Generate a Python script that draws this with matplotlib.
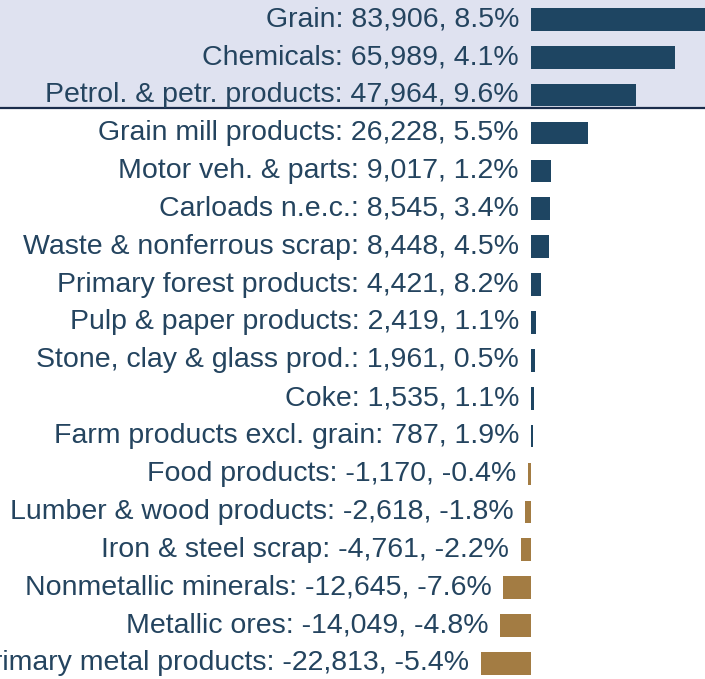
import matplotlib
matplotlib.use("Agg")
import matplotlib.pyplot as plt

# commodity changes (carloads), top to bottom
categories = ["Grain", "Chemicals", "Petrol. & petr. products", "Grain mill products",
              "Motor veh. & parts", "Carloads n.e.c.", "Waste & nonferrous scrap",
              "Primary forest products", "Pulp & paper products", "Stone, clay & glass prod.",
              "Coke", "Farm products excl. grain", "Food products", "Lumber & wood products",
              "Iron & steel scrap", "Nonmetallic minerals", "Metallic ores",
              "Primary metal products"]
changes = [83906, 65989, 47964, 26228, 9017, 8545, 8448, 4421, 2419, 1961,
           1535, 787, -1170, -2618, -4761, -12645, -14049, -22813]
pct = [8.5, 4.1, 9.6, 5.5, 1.2, 3.4, 4.5, 8.2, 1.1, 0.5,
       1.1, 1.9, -0.4, -1.8, -2.2, -7.6, -4.8, -5.4]
n_highlight = 3

pos_color = "#1e4562"
neg_color = "#a37c43"
text_color = "#24445f"
band_color = "#dfe2f0"

plt.rcParams['font.family'] = ['Liberation Sans', 'DejaVu Sans']

fig = plt.figure(figsize=(7.05, 6.79), dpi=100)
ax = fig.add_axes([0, 0, 1, 1])

rows = list(range(len(categories)))
colors = [pos_color if v >= 0 else neg_color for v in changes]
ax.barh(rows, changes, height=0.6, color=colors)

for i, (name, v, p) in enumerate(zip(categories, changes, pct)):
    label = f"{name}: {v:,}, {p:.1f}%"
    ax.annotate(label, xy=(min(v, 0), i), xytext=(-12, 0), textcoords="offset pixels",
                ha="right", va="center", fontsize=20.5, color=text_color)

# highlighted top group
ax.axhspan(-1, n_highlight - 0.65, color=band_color, zorder=0, lw=0)
ax.axhline(n_highlight - 0.65, color="#1b2d4c", lw=1.6)

ax.set_xlim(-242500, 79500)
ax.set_ylim(17.41, -0.51)
ax.axis("off")

fig.savefig("out.png", dpi=100)
